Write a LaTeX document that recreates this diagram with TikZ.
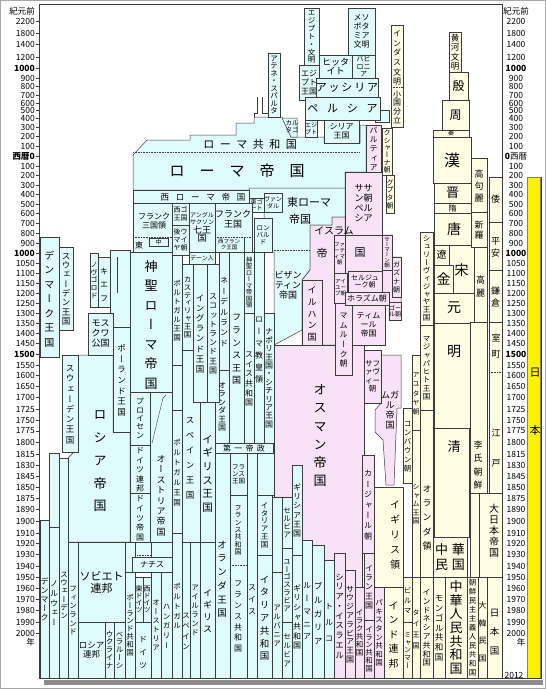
\documentclass[tikz,border=0pt]{standalone}
\usepackage{fontspec}
\setmainfont{Noto Sans CJK JP}
\newfontfamily\tatefont[RawFeature=+vert]{Noto Sans CJK JP}
\definecolor{euc}{HTML}{E0FBFC}
\definecolor{islc}{HTML}{F8E2F6}
\definecolor{asc}{HTML}{FFFDE3}
\definecolor{linec}{HTML}{3C3C3C}
% vertical text, one glyph per line
\newcommand{\vtxt}[2][1.1]{{\tatefont\vbox{\offinterlineskip\def\vtxtsp{#1}\vtxtloop#2\relax}}}
\def\vtxtloop#1{\ifx\relax#1\else\hbox to 1em{\hss\vrule height \dimexpr\vtxtsp em-.15em\relax depth .15em width 0pt\relax #1\hss}\expandafter\vtxtloop\fi}
\def\yrlist{21/2200,33/1800,44/1400,57/1200,68/{\bfseries 1000},78/900,86/800,95/700,103/600,110/500,118/400,127/300,136/200,146/100,166/100,175/200,185/300,194/400,204/500,213/600,223/700,233/800,243/900,253/{\bfseries 1000},263/1050,273/1100,283/1150,293/1200,303/1250,313/1300,323/1350,333/1400,343/1450,354/{\bfseries 1500},365/1550,375/1600,386/1650,397/1700,409/1725,420/1750,431/1775,442/1800,454/1815,465/1830,476/1845,487/1850,498/1875,509/1890,521/1900,533/1910,543/1920,554/1930,566/1940,577/1950,588/1960,599/1970,610/1980,622/1990,633/2000}

\begin{document}
\begin{tikzpicture}[x=1pt, y=-1pt,
  cell/.style={draw=linec, line width=.5pt, inner sep=0pt, align=center, font=\fontsize{7.5}{8.5}\selectfont},
  eu/.style={cell, fill=euc},
  isl/.style={cell, fill=islc},
  asia/.style={cell, fill=asc},
  span/.style args={#1/#2/#3/#4}{minimum width={#3-#1}, minimum height={#4-#2}, at={({(#1+#3)/2},{(#2+#4)/2})}},
  fs/.style={font=\linespread{1.1}\fontsize{#1}{#1}\selectfont},
  lbl/.style={inner sep=0pt, align=center},
  region/.style={draw=linec, line width=.5pt},
  dots/.style={densely dotted, linec, line width=.6pt},
  yl/.style={font=\fontsize{8.5}{9}\selectfont, anchor=east, inner sep=0pt},
  yr/.style={font=\fontsize{8.5}{9}\selectfont, inner sep=0pt},
]
\useasboundingbox (0,0) rectangle (546,689);
\draw[black!35] (0.5,0.5) rectangle (545.5,688.5);
\fill[black!45] (44,680) rectangle (543,685);
\fill[white] (39,4) rectangle (502,678);

% year scales
\node[yl] (ylbc) at (35,11) {紀元前};
\node[yr] (yrbc) at (516,11) {紀元前};
\foreach \yy/\lab [count=\i] in \yrlist {
  \node[yl] (yl\i) at (35,\yy) {\lab};
  \node[yr] (yr\i) at (516,\yy) {\lab};
  \draw[linec] (35.5,\yy) -- (39,\yy);
}
\node[yl] (ylzero) at (35,156) {\bfseries 西暦0};
\draw[linec] (35.5,156) -- (39,156);
\node[yr] (yrzero) at (516,156) {{\bfseries 0}西暦};
\node[yl] (ylyear) at (35,642) {年};
\node[yr] (yryear) at (521,642) {年};
\node[yr] (yr2012) at (514,675) {2012};
\node[draw=black!50, fill=yellow, inner sep=0pt, span=527/177/540/678] (nihonbar) {};
\node[lbl, fs=11] (nichi) at (535,373) {日};
\node[lbl, fs=11] (hon) at (535,430) {本};

% ---- regions
% Rome
\draw[region, fill=euc] (133,155) -- (147,140) -- (190,140) -- (190,135) -- (236,135) -- (236,123) -- (254,123) -- (254,117) -- (282,117) -- (291,137) -- (324,137) -- (324,143) -- (360,143) -- (360,125) -- (366,125) -- (366,172) -- (345,172) -- (345,190) -- (133,190) -- cycle;
\draw[linec] (254,117) -- (254,113) -- (257,113) -- (257,97) (262,97) -- (262,113) -- (268,113);
% East Rome
\draw[region, fill=euc] (249,188) -- (345,188) -- (345,217) -- (332,217) -- (332,225) -- (310,225) -- (310,270) -- (302,280) -- (302,330) -- (274,345) -- (274,252) -- (264,252) -- (264,212) -- (249,212) -- cycle;
% Islam
\draw[region, fill=islc] (310,225) -- (332,225) -- (332,217) -- (345,217) -- (345,235) -- (392,235) -- (392,257) -- (401,257) -- (401,320) -- (389,320) -- (389,305) -- (385,305) -- (385,345) -- (352,345) -- (352,375) -- (335,375) -- (335,345) -- (302,345) -- (302,280) -- (310,270) -- cycle;
% Ottoman
\draw[region, fill=islc] (274,345) -- (364,345) -- (364,455) -- (362,455) -- (362,587) -- (274,587) -- cycle;
% Russia
\draw[region, fill=euc] (78,355) -- (113,355) -- (113,432) -- (130,432) -- (130,542) -- (68,542) -- (68,458) -- (78,448) -- cycle;
% Mughal
\draw[region, fill=islc] (381,355) -- (401,355) -- (401,408) -- (397,408) -- (394,485) -- (386,485) -- (383,440) -- (375,432) -- (375,410) -- (381,403) -- cycle;

% ---- ancient
\node[eu, fs=7.5, span=304/8/319/65] (egyptciv) {\vtxt[1.05]{エジプト・文明}};
\node[eu, fs=8, span=348/8/375/55] (meso) {メソ\\ポタ\\ミア\\文明};
\node[eu, fs=9, span=319/55/352/78] (hittite) {ヒッタ\\イト};
\node[eu, fs=7, span=352/55/375/78] (babylon) {バビ\\ロニ\\ア};
\node[eu, fs=8, span=299/65/319/100] (egyptk) {エジ\\プト\\王国};
\node[eu, fs=11, span=319/78/375/97] (assyria) {ア\,ッ\,シ\,リ\,ア};
\node[eu, span=375/110/389/122] (persiastep) {};
\node[eu, fs=11, span=305/97/380/120] (persia) {ペ\hspace{.8em}ル\hspace{.8em}シ\hspace{.8em}ア};
\node[eu, fs=7.5, span=268/53/280/117] (athens) {\vtxt[1.0]{アテネ・スパルタ}};
\draw[region, fill=euc] (282,118) -- (297,118) -- (297,137) -- (291,137) -- cycle;
\node[lbl, fs=6.5] (carthage) at (292,127) {カル\\タゴ};
\node[eu, fs=6, span=305/120/317/137] (egyptp) {エジ\\プト};
\node[eu, fs=8, span=324/120/359/143] (syriak) {シリア\\王国};
\draw[dots] (133,152) -- (360,152);
\node[lbl, fs=11] (romerep) at (250,144) {ロ\hspace{.5em}ー\hspace{.5em}マ\hspace{.5em}共\hspace{.5em}和\hspace{.5em}国};
\node[lbl, fs=15] (romeemp) at (237,171) {ロ\hspace{1em}ー\hspace{1em}マ\hspace{1em}帝\hspace{1em}国};
\node[isl, fs=8, span=366/125/381/172] (parthia) {\vtxt[1.15]{パルティア}};
\node[asia, fs=7, span=382/128/392/175] (kushan) {\vtxt[1.05]{クシャーナ朝}};
\node[isl, fs=9, span=345/172/382/235] (sasan) {ササ\\ン朝\\ペル\\シア};
\node[asia, fs=7, span=386/175/394/213] (gupta) {\vtxt{グプタ朝}};

% ---- east asia
\node[asia, span=391/25/403/127] (indus) {};
\node[lbl, fs=8] (indusl) at (397,57) {\vtxt[1.2]{インダス文明}};
\node[lbl, fs=8] (shokoku) at (397,107) {\vtxt[1.1]{小国分立}};
\draw[dots] (391,87) -- (403,87);
\node[asia, fs=8.5, span=449/32/461/72] (kouga) {\vtxt[1.1]{黄河文明}};
\node[asia, fs=12, span=449/72/468/100] (yin) {殷};
\node[asia, fs=12, span=442/100/469/130] (zhou) {周};
\node[asia, fs=6, span=433/130/469/137] (qin) {秦};
\node[asia, fs=16, span=433/137/471/183] (han) {漢};
\node[asia, fs=13, span=434/183/471/203] (jin) {晋};
\node[asia, fs=8, span=434/203/471/213] (sui) {隋};
\node[asia, fs=14, span=434/213/474/245] (tang) {唐};
\node[asia, fs=10, span=434/245/449/265] (liao) {遼};
\node[asia, fs=14, span=449/245/474/295] (song) {宋};
\node[asia, fs=14, span=434/265/453/293] (jurchen) {金};
\node[asia, fs=14, span=434/293/474/323] (yuan) {元};
\node[asia, span=434/323/470/428] (ming) {};
\node[lbl, fs=14] (mingl) at (454,352) {明};
\node[asia, span=434/428/469/537] (qing) {};
\node[lbl, fs=13] (qingl) at (454,447) {清};
\node[asia, fs=13, span=433/537/467/577] (roc) {中\hspace{.3em}華\\民\hspace{.3em}国};
\node[asia, fs=13, span=445/577/467/678] (prc) {\vtxt[1.05]{中華人民共和国}};
% korea
\node[asia, fs=9, span=471/158/487/212] (koguryo) {\vtxt[1.3]{高句麗}};
\node[asia, fs=9, span=471/212/487/247] (silla) {\vtxt[1.2]{新羅}};
\node[asia, fs=9, span=474/247/487/322] (goryeo) {\vtxt[1.5]{高麗}};
\node[asia, span=470/322/487/493] (joseon) {};
\node[lbl, fs=9] (joseonl) at (478,463) {\vtxt[1.5]{李氏朝鮮}};
\node[asia, span=470/493/479/577] (korea) {};
\node[asia, fs=7.5, span=467/577/478/678] (dprk) {\vtxt[1.2]{朝鮮民主主義人民共和国}};
\node[asia, fs=8, span=478/577/487/678] (rok) {\vtxt[2.2]{大韓民国}};
% japan
\node[asia, fs=9, span=489/177/502/222] (wa) {倭};
\node[asia, fs=9, span=489/222/502/270] (heian) {\vtxt[1.3]{平安}};
\node[asia, fs=9, span=489/270/502/322] (kamakura) {\vtxt[1.3]{鎌倉}};
\node[asia, span=489/322/502/493] (muroedo) {};
\node[lbl, fs=9] (muromachi) at (496,343) {\vtxt[1.8]{室町}};
\node[lbl, fs=9] (edo) at (496,438) {\vtxt[3.3]{江戸}};
\draw[dots] (489,372) -- (502,372);
\node[asia, span=479/493/502/577] (dainihon) {};
\node[lbl, fs=10] (dainihonl) at (494,530) {\vtxt[1.1]{大日本帝国}};
\node[asia, fs=9.5, span=487/577/502/678] (nihonkoku) {\vtxt[2.0]{日本国}};
% south and south-east asia
\node[asia, fs=7.5, span=420/232/433/325] (srivijaya) {\vtxt[1.05]{シュリーヴィジャヤ王国}};
\node[asia, fs=7.5, span=420/325/433/410] (majapahit) {\vtxt[1.1]{マジャパヒト王国}};
\node[asia, fs=7, span=412/355/420/430] (ayutthaya) {\vtxt[1.3]{アユタヤ朝}};
\node[asia, fs=7.5, span=403/408/412/483] (konbaung) {\vtxt[1.2]{コンバウン朝}};
\node[asia, fs=7, span=412/430/420/577] (siam) {\vtxt[1.2]{シャム王国}};
\node[asia, span=420/410/433/577] (dutchei) {};
\node[lbl, fs=9] (dutcheil) at (427,515) {\vtxt[1.6]{オランダ領}};
\node[asia, span=374/487/403/587] (brind) {};
\node[lbl, fs=10] (brindl) at (395,532) {\vtxt[1.5]{イギリス領}};
\node[isl, fs=7.5, span=374/587/384/678] (pakistan) {\vtxt[1.15]{パキスタン共和国}};
\node[asia, fs=10, span=384/587/403/678] (india) {\vtxt[1.45]{インド連邦}};
\node[asia, fs=7.5, span=403/577/412/622] (burma) {\vtxt[1.3]{ビルマ}};
\node[asia, fs=7, span=403/622/412/678] (myanmar) {\vtxt[1.1]{ミャンマー}};
\node[asia, fs=7, span=412/577/420/678] (thai) {\vtxt[1.6]{タイ王国}};
\node[asia, fs=8, span=420/577/433/678] (indonesia) {\vtxt[1.1]{インドネシア共和国}};
\node[asia, fs=8.5, span=433/577/445/678] (mongol) {\vtxt[1.15]{モンゴル共和国}};

% ---- islamic world
\node[lbl, fs=10] (islam) at (334,231) {イスラム};
\node[lbl, fs=11] (islamtei) at (322,253) {帝};
\node[lbl, fs=11] (islamkoku) at (360,253) {国};
\node[isl, fs=5.5, span=334/235/345/273] (fatimid) {ファ\\ーテ\\ィマ\\朝};
\node[isl, fs=5.5, span=334/273/347/303] (ayyubid) {アイ\\ユー\\ブ朝};
\node[isl, fs=8, span=335/303/352/375] (mamluk) {\vtxt[1.2]{マムルーク朝}};
\node[isl, fs=9, span=302/280/322/345] (ilkhan) {\vtxt[1.3]{イルハン国}};
\node[isl, fs=7, span=348/271/382/292] (seljuk) {セルジュ\\ーク朝};
\node[isl, fs=5.5, span=382/235/392/270] (samanid) {\vtxt[0.95]{サーマーン朝}};
\node[isl, fs=7, span=392/257/401/297] (ghazna) {\vtxt[1.15]{ガズナ朝}};
\node[isl, fs=8, span=345/292/389/305] (khwarazm) {ホラズム朝};
\node[isl, fs=6, span=389/302/401/320] (ghor) {ゴー\\ル朝};
\node[isl, fs=8, span=352/305/385/345] (timur) {ティム\\ール\\帝国};
\node[isl, fs=7.5, span=364/350/381/403] (safavid) {サフ\\ァヴ\\ィー\\朝};
\node[lbl, fs=9] (mughal) at (390,410) {ムガ\\ル\\帝\\国};
\node[lbl, fs=13] (ottoman) at (320,433) {\vtxt[1.4]{オスマン帝国}};
\node[isl, fs=8, span=362/455/374/553] (qajar) {\vtxt[1.3]{カージャール朝}};
\node[isl, fs=8.5, span=334/553/345/678] (syria) {\vtxt[1.15]{シリア・イスラエル}};
\node[isl, fs=8, span=345/570/355/678] (saudi) {\vtxt[1.1]{サウジアラビア王国}};
\node[isl, fs=7.5, span=355/587/364/678] (iraq) {\vtxt[1.05]{イラク共和国}};
\node[isl, fs=8, span=364/553/374/620] (irank) {\vtxt[1.15]{イラン王国}};
\node[isl, fs=7.5, span=364/620/374/678] (iranr) {\vtxt[1.05]{イラン共和国}};

% ---- europe
\node[lbl, fs=11] (eastrome) at (309,202) {東ローマ};
\node[lbl, fs=11] (eastrome2) at (300,219) {帝国};
\draw[dots] (264,250) -- (310,250);
\node[lbl, fs=9] (byzantine) at (288,285) {ビザン\\ティン\\帝国};
\node[eu, span=133/190/249/203] (westrome) {};
\node[lbl, fs=8.5] (westromel) at (203,197) {西\hspace{.8em}ロ\hspace{.8em}ー\hspace{.8em}マ\hspace{.8em}帝\hspace{.8em}国};
\node[eu, fs=6, span=249/198/264/212] (ostrogoth) {東ゴ\\ート};
\node[eu, fs=6, span=264/193/282/212] (vandal) {ヴァン\\ダル};
\node[eu, fs=7, span=172/203/189/225] (visigoth) {西ゴ\\王国};
\node[eu, fs=7, span=172/225/189/255] (umayyad) {後ウ\\マイ\\ヤ朝};
\node[eu, fs=6, span=189/203/215/252] (anglo) {アングル\\サクソン\\{\fontsize{9}{10}\selectfont 七王}\\{\fontsize{9}{10}\selectfont 国}};
\node[eu, fs=6, span=189/252/215/264] (dane) {デーン人};
\node[eu, span=215/203/252/252] (frank) {};
\node[lbl, fs=9] (frankl) at (233,219) {フランク\\王国};
\draw[dots] (215,237) -- (252,237);
\draw[linec] (244,237) -- (244,252);
\node[lbl, fs=5.5] (wfrank) at (229,244.5) {西フラン\\ク王国};
\node[eu, fs=6.5, span=254/218/272/252] (lombard) {ロン\\バル\\ド};
\node[eu, span=133/203/172/252] (frank3) {};
\node[lbl, fs=8] (frank3l) at (154,221) {フランク\\三国領};
\draw[dots] (133,237) -- (172,237);
\node[lbl, fs=8] (eastfrank) at (139,245) {東};
\node[eu, fs=6, span=149/238/168/246] (midfrank) {中};

\node[eu, fs=10, span=40/237/59/357] (denmark) {\vtxt[1.45]{デンマーク王国}};
\node[eu, fs=8.5, span=59/247/73/330] (sweden) {\vtxt[1.1]{スウェーデン王国}};
\node[eu, fs=7, span=90/253/98/307] (novgorod) {\vtxt[1.1]{ノヴゴロド}};
\node[eu, fs=8, span=98/257/110/307] (kiev) {\vtxt[1.7]{キエフ}};
\node[eu, span=110/250/130/327] (rus) {};
\draw[linec] (117,257) -- (117,293);
\node[eu, fs=9, span=88/313/113/355] (moscow) {モス\\クワ\\公国};
\node[eu, fs=8.5, span=113/327/130/432] (poland) {\vtxt[1.25]{ポーランド王国}};
\node[eu, fs=8.5, span=62/355/78/452] (sweden2) {\vtxt[1.2]{スウェーデン王国}};
\node[lbl, fs=13] (russia) at (100,456) {\vtxt[1.75]{ロシア帝国}};
\node[eu, fs=13, span=130/252/172/392] (hre) {\vtxt[1.5]{神聖ローマ帝国}};
\node[eu, fs=8, span=130/392/150/445] (prussia) {\vtxt[1.05]{プロイセン}};
\node[eu, span=150/392/172/542] (austria) {};
\draw[linec] (166,395) -- (163,398) -- (152,443);
\node[lbl, fs=9] (austrial) at (161,495) {\vtxt[1.15]{オーストリア帝国}};
\node[eu, fs=8, span=130/445/150/493] (gerconf) {\vtxt[1.2]{ドイツ連邦}};
\node[eu, fs=8, span=130/493/150/542] (gerempire) {\vtxt[1.2]{ドイツ帝国}};
\node[eu, fs=7.5, span=172/255/182/365] (portugal) {\vtxt[1.2]{ポルトガル王国}};
\node[eu, span=172/365/182/410] (iberia) {};
\node[eu, fs=7.5, span=172/410/182/533] (portugal2) {\vtxt[1.35]{ポルトガル王国}};
\node[eu, fs=7.5, span=172/533/182/678] (portugal3) {\vtxt[1.3]{ポルトガル}};

\node[eu, span=182/350/200/542] (spain) {};
\node[lbl, fs=8.5] (spainl) at (190,455) {\vtxt[1.75]{スペイン王国}};
\node[eu, fs=7.5, span=182/264/193/350] (castile) {\vtxt[1.05]{カスティリャ王国}};
\node[eu, fs=8, span=215/370/229/443] (holland) {\vtxt[1.05]{オランダ王国}};
\node[eu, fs=8.5, span=193/264/207/402] (england) {\vtxt[1.2]{イングランド王国}};
\node[eu, fs=8, span=207/264/219/402] (scotland) {\vtxt[1.15]{スコットランド王国}};
\node[eu, fs=8, span=219/252/229/370] (nederland) {\vtxt[1.3]{ネーデルランド}};
\node[eu, fs=9, span=229/252/244/443] (france) {\vtxt[1.4]{フランス王国}};
\node[eu, fs=6.5, span=244/252/254/313] (hreterr) {\vtxt[1.0]{神聖ローマ帝国領}};
\node[eu, fs=8, span=244/313/254/443] (swiss) {\vtxt[1.2]{スイス共和国}};
\node[eu, fs=8, span=254/252/264/443] (papal) {\vtxt[1.5]{ローマ教皇領}};
\node[eu, fs=8, span=264/313/274/443] (naples) {\vtxt[1.05]{ナポリ王国・シチリア王国}};
\node[eu, fs=10.5, span=200/402/215/542] (uk) {\vtxt[1.3]{イギリス王国}};
\node[eu, fs=8, span=215/443/273/453] (empire) {第\hspace{.4em}一\hspace{.4em}帝\hspace{.4em}政};
\node[eu, span=215/453/230/678] (holland2) {};
\node[lbl, fs=9.5] (holland2l) at (222,577) {\vtxt[1.45]{オランダ王国}};
\node[eu, fs=6.5, span=230/453/247/495] (france2) {フラ\\ンス\\王国};
\node[eu, span=230/495/247/678] (france3) {};
\node[lbl, fs=7] (france3l) at (238,530) {\vtxt[1.05]{フランス共和国}};
\draw[dots] (230,565) -- (247,565);
\node[lbl, fs=8] (france4l) at (238,615) {\vtxt[1.35]{フランス共和国}};
\node[eu, span=247/453/257/678] (swiss2) {};
\node[lbl, fs=8] (swiss2l) at (252,598) {\vtxt[1.5]{スイス}};
\node[eu, span=257/453/274/495] (italia) {};
\node[eu, fs=7.5, span=257/495/272/555] (italyk) {\vtxt[1.05]{イタリア王国}};
\node[eu, fs=9.5, span=257/555/272/678] (italyr) {\vtxt[1.35]{イタリア共和国}};
\node[eu, span=272/497/282/572] (balkan) {};
\node[eu, fs=7.5, span=272/572/282/678] (albania) {\vtxt[1.2]{アルバニア}};
\node[eu, fs=7.5, span=282/497/292/548] (serbiak) {\vtxt[1.1]{セルビア}};
\node[eu, fs=7.5, span=282/548/292/622] (yugo) {\vtxt[1.05]{ユーゴスラビア}};
\node[eu, fs=7.5, span=282/622/292/678] (serbia) {\vtxt[1.2]{セルビア}};
\node[eu, fs=8, span=292/465/302/555] (greecek) {\vtxt[1.15]{ギリシア王国}};
\node[eu, fs=8, span=292/555/302/678] (greecer) {\vtxt[1.2]{ギリシャ共和国}};
\node[eu, fs=8, span=302/540/312/678] (romania) {\vtxt[1.6]{ルーマニア}};
\node[eu, fs=8.5, span=312/545/324/678] (bulgaria) {\vtxt[1.6]{ブルガリア}};
\node[eu, fs=8, span=324/560/334/678] (turkey) {\vtxt[2.0]{トルコ}};

\node[eu, span=182/542/190/678] (spain2) {};
\node[lbl, fs=7.5] (spain2l) at (186,630) {\vtxt[1.4]{スペイン}};
\node[eu, fs=7.5, span=190/542/200/678] (ireland) {\vtxt[1.2]{アイルランド}};
\node[eu, fs=9, span=200/542/215/678] (uk2) {\vtxt[1.3]{イギリス}};

\node[eu, fs=8, span=40/520/49/678] (denmark2) {\vtxt[1.15]{デンマーク}};
\node[eu, span=49/453/59/527] (norwayu) {};
\node[eu, fs=8, span=49/527/59/678] (norway) {\vtxt[1.2]{ノルウェー}};
\node[eu, span=59/458/68/678] (sweden3) {};
\node[lbl, fs=7.5] (sweden3l) at (64,595) {\vtxt[1.1]{スウェーデン}};
\node[eu, fs=7.5, span=68/542/78/678] (finland) {\vtxt[1.15]{フィンランド}};
\node[eu, fs=11, span=78/542/125/622] (ussr) {ソビエト\\連邦};
\node[eu, fs=8.5, span=78/622/105/678] (rusfed) {ロシア\\連邦};
\node[eu, fs=7.5, span=105/622/114/678] (ukraine) {\vtxt[1.05]{ウクライナ}};
\node[eu, fs=7.5, span=114/622/125/678] (belarus) {\vtxt[1.05]{ベラルーシ}};
\node[eu, span=125/542/135/572] (poland2) {};
\node[eu, span=135/542/151/557] (weimar) {};
\node[eu, span=151/542/172/557] (austria1) {};
\node[eu, fs=8, span=132/557/172/572] (nazi) {ナチス};
\draw[dots] (137,555) -- (150,555);
\node[eu, fs=7.5, span=125/572/135/678] (poland3) {\vtxt[1.05]{ポーランド共和国}};
\node[eu, fs=7, span=135/577/143/622] (eastger) {\vtxt[1.0]{東ドイツ}};
\node[eu, fs=7, span=143/577/151/622] (westger) {\vtxt[1.0]{西ドイツ}};
\node[eu, fs=8, span=135/622/151/678] (germany) {\vtxt[1.6]{ドイツ}};
\node[eu, fs=7.5, span=151/572/161/678] (austria2) {\vtxt[1.2]{オーストリア}};
\node[eu, fs=7.5, span=161/572/172/678] (hungary) {\vtxt[1.3]{ハンガリー}};

% frame
\draw[linec, line width=.8pt] (39,4) rectangle (502,678);
\draw[linec, line width=.8pt] (502,678) -- (541,678) -- (541,177);
\end{tikzpicture}
\end{document}
